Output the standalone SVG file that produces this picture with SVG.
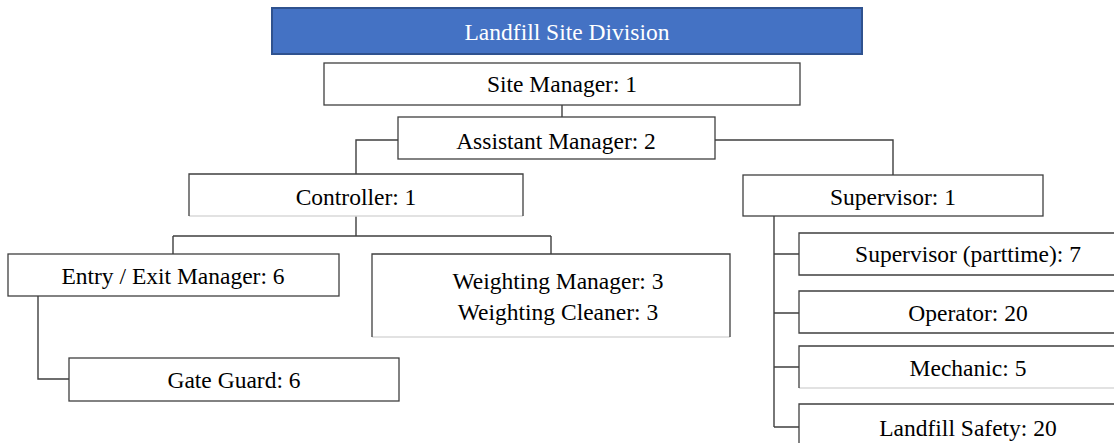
<svg xmlns="http://www.w3.org/2000/svg" width="1114" height="443" viewBox="0 0 1114 443">
  <style>
    .bg { fill: #ffffff; }
    .box { fill: #ffffff; stroke: #3f3f3f; stroke-width: 1.3; }
    .edge { fill: none; stroke: #3f3f3f; stroke-width: 1.3; }
    .soft { fill: none; stroke: #d9d9d9; stroke-width: 1.3; }
    .title { fill: #4472C4; stroke: #2F528F; stroke-width: 2; }
    .label { font-family: "Liberation Serif", "Times New Roman", serif; font-size: 23.5px; fill: #000000; text-anchor: middle; }
    .title-label { font-family: "Liberation Serif", "Times New Roman", serif; font-size: 23.5px; fill: #ffffff; text-anchor: middle; }
    .link { fill: none; stroke: #3f3f3f; stroke-width: 1.4; }
  </style>

  <rect class="bg" x="0" y="0" width="1114" height="443"/>

  <!-- connectors -->
  <g id="connectors">
    <path class="link" d="M562 105 V117"/>
    <path class="link" d="M398 140 H356 V174"/>
    <path class="link" d="M715 140 H893 V175"/>
    <path class="link" d="M356 216 V236 M173 236 H551 M173 236 V254 M551 236 V254"/>
    <path class="link" d="M38 296 V379 H69"/>
    <path class="link" d="M774 216 V427 M774 254 H799 M774 313 H799 M774 367 H799 M774 427 H799"/>
  </g>

  <!-- division header -->
  <g id="division">
    <rect class="title" x="272" y="8" width="590" height="46"/>
    <text class="title-label" x="567" y="40">Landfill Site Division</text>
  </g>

  <g id="site-manager">
    <rect class="box" x="324" y="63" width="476" height="42"/>
    <text class="label" x="562" y="92">Site Manager: 1</text>
  </g>

  <g id="assistant-manager">
    <rect class="box" x="398" y="117" width="317" height="42"/>
    <text class="label" x="556" y="149">Assistant Manager: 2</text>
  </g>

  <g id="controller">
    <path class="soft" d="M189 216 H523"/>
    <path class="edge" d="M189 216 V174 H523 V216"/>
    <text class="label" x="356" y="205">Controller: 1</text>
  </g>

  <g id="supervisor">
    <rect class="box" x="743" y="175" width="300" height="41"/>
    <text class="label" x="893" y="205">Supervisor: 1</text>
  </g>

  <g id="entry-exit-manager">
    <rect class="box" x="8" y="254" width="331" height="42"/>
    <text class="label" x="173" y="284">Entry / Exit Manager: 6</text>
  </g>

  <g id="weighting">
    <path class="soft" d="M372 337 H730"/>
    <path class="edge" d="M372 337 V254 H730 V337"/>
    <text class="label" x="558" y="289">Weighting Manager: 3</text>
    <text class="label" x="558" y="320">Weighting Cleaner: 3</text>
  </g>

  <g id="gate-guard">
    <rect class="box" x="69" y="358" width="330" height="43"/>
    <text class="label" x="234" y="388">Gate Guard: 6</text>
  </g>

  <g id="supervisor-parttime">
    <path class="edge" d="M1116 233 H799 V275 H1116"/>
    <text class="label" x="968" y="262">Supervisor (parttime): 7</text>
  </g>

  <g id="operator">
    <path class="edge" d="M1116 291 H799 V333 H1116"/>
    <text class="label" x="968" y="321">Operator: 20</text>
  </g>

  <g id="mechanic">
    <path class="soft" d="M799 388 H1116"/>
    <path class="edge" d="M1116 346 H799 V388"/>
    <text class="label" x="968" y="376">Mechanic: 5</text>
  </g>

  <g id="landfill-safety">
    <path class="edge" d="M1116 404 H799 V445"/>
    <text class="label" x="968" y="436">Landfill Safety: 20</text>
  </g>
</svg>
